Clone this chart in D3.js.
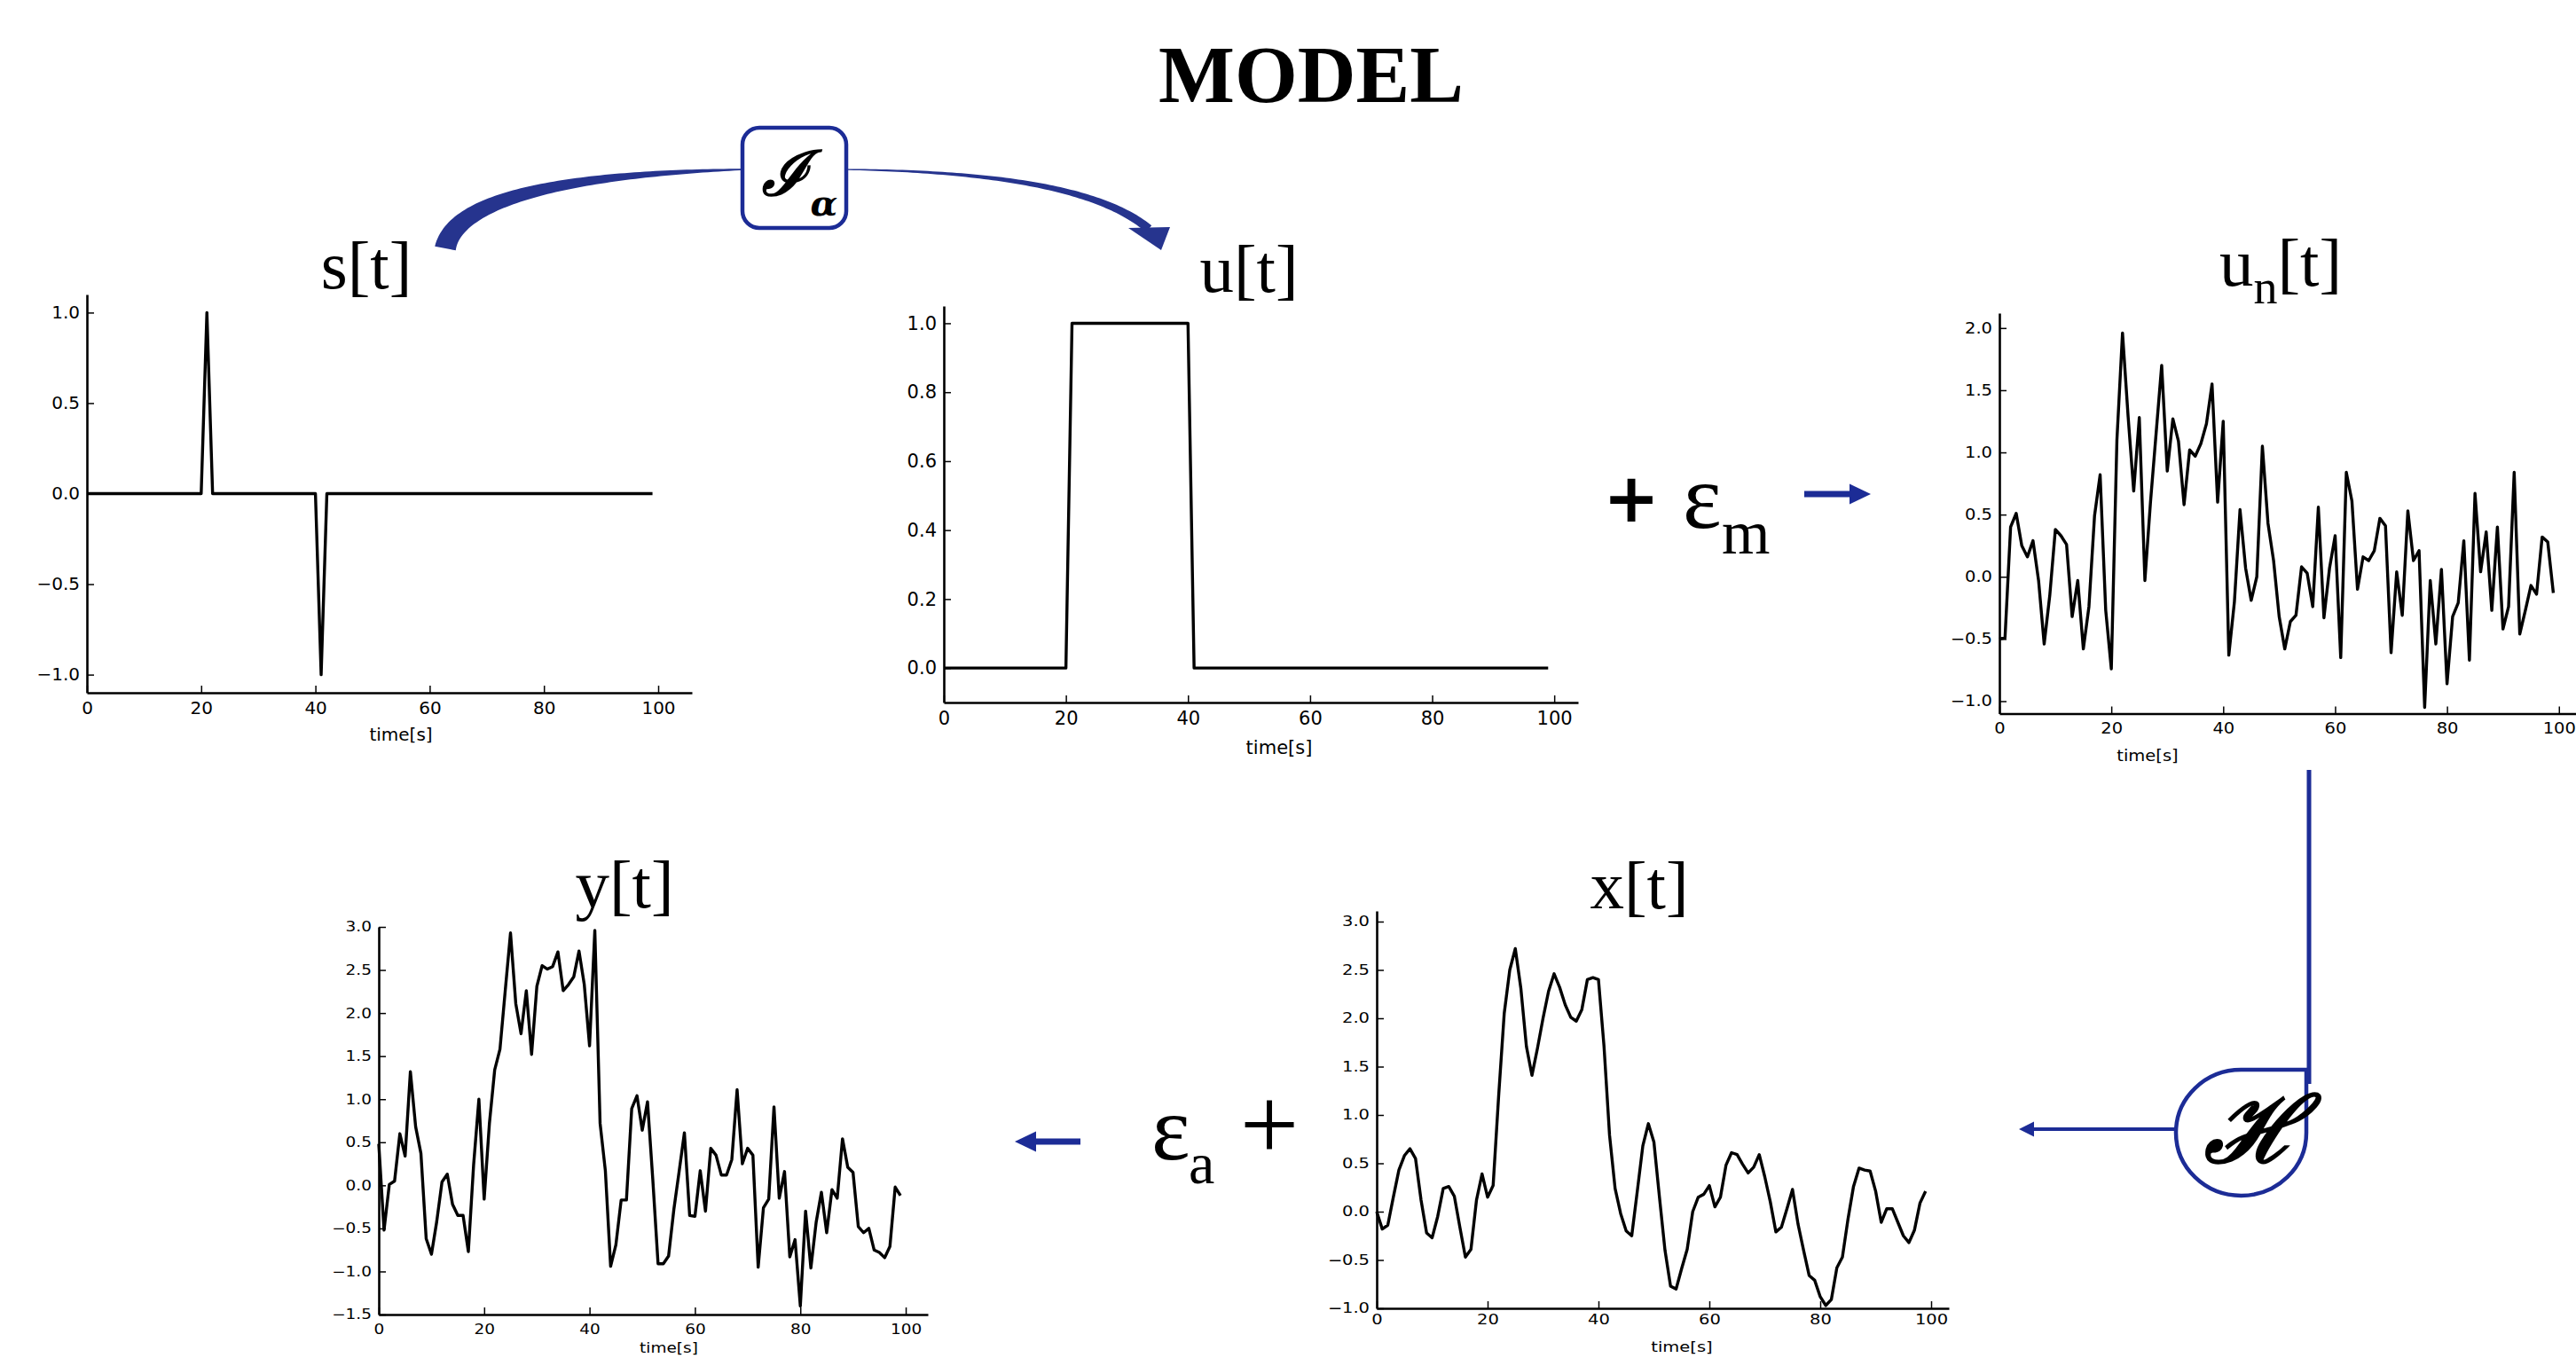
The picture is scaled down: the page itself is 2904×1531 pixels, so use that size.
<!DOCTYPE html>
<html><head><meta charset="utf-8">
<script src="https://cdn.jsdelivr.net/npm/d3@7"></script>
<style>body{margin:0;background:#fff}svg{display:block}</style>
</head><body><script>
// ---------------- data ----------------
const timeTicks = [0, 20, 40, 60, 80, 100];
const sTicks  = [-1.0, -0.5, 0.0, 0.5, 1.0];
const uTicks  = [0.0, 0.2, 0.4, 0.6, 0.8, 1.0];
const unTicks = [-1.0, -0.5, 0.0, 0.5, 1.0, 1.5, 2.0];
const yTicks  = [-1.5, -1.0, -0.5, 0.0, 0.5, 1.0, 1.5, 2.0, 2.5, 3.0];
const xTicks  = [-1.0, -0.5, 0.0, 0.5, 1.0, 1.5, 2.0, 2.5, 3.0];

const sValues = [
 0,0,0,0,0,0,0,0,0,0,
 0,0,0,0,0,0,0,0,0,0,
 0,1,0,0,0,0,0,0,0,0,
 0,0,0,0,0,0,0,0,0,0,
 0,-1,0,0,0,0,0,0,0,0,
 0,0,0,0,0,0,0,0,0,0,
 0,0,0,0,0,0,0,0,0,0,
 0,0,0,0,0,0,0,0,0,0,
 0,0,0,0,0,0,0,0,0,0,
 0,0,0,0,0,0,0,0,0,0];

const uValues = [
 0,0,0,0,0,0,0,0,0,0,
 0,0,0,0,0,0,0,0,0,0,
 0,1,1,1,1,1,1,1,1,1,
 1,1,1,1,1,1,1,1,1,1,
 1,0,0,0,0,0,0,0,0,0,
 0,0,0,0,0,0,0,0,0,0,
 0,0,0,0,0,0,0,0,0,0,
 0,0,0,0,0,0,0,0,0,0,
 0,0,0,0,0,0,0,0,0,0,
 0,0,0,0,0,0,0,0,0,0];

const unValues = [
 -0.50,-0.49,0.40,0.51,0.25,0.16,0.29,-0.03,-0.54,-0.15,
 0.38,0.33,0.26,-0.32,-0.03,-0.58,-0.24,0.49,0.82,-0.27,
 -0.74,1.10,1.96,1.29,0.69,1.28,-0.03,0.60,1.15,1.70,
 0.85,1.27,1.09,0.58,1.02,0.97,1.07,1.23,1.55,0.60,
 1.25,-0.63,-0.20,0.54,0.07,-0.19,0.00,1.05,0.43,0.13,
 -0.32,-0.58,-0.36,-0.31,0.08,0.03,-0.24,0.56,-0.33,0.07,
 0.33,-0.65,0.84,0.61,-0.10,0.16,0.13,0.21,0.47,0.41,
 -0.61,0.04,-0.31,0.53,0.13,0.21,-1.05,-0.03,-0.54,0.06,
 -0.86,-0.32,-0.21,0.29,-0.67,0.67,0.04,0.36,-0.27,0.40,
 -0.42,-0.24,0.84,-0.46,-0.27,-0.07,-0.14,0.32,0.28,-0.13];

const yValues = [
 0.48,-0.52,0.01,0.05,0.60,0.34,1.32,0.68,0.37,-0.62,
 -0.80,-0.42,0.04,0.13,-0.22,-0.35,-0.35,-0.77,0.24,1.00,
 -0.16,0.72,1.34,1.58,2.26,2.93,2.11,1.76,2.26,1.52,
 2.31,2.55,2.51,2.54,2.71,2.26,2.33,2.42,2.72,2.33,
 1.62,2.96,0.72,0.17,-0.94,-0.69,-0.17,-0.17,0.89,1.04,
 0.64,0.97,0.07,-0.91,-0.91,-0.82,-0.28,0.16,0.61,-0.35,
 -0.36,0.17,-0.30,0.43,0.35,0.12,0.12,0.30,1.11,0.25,
 0.43,0.35,-0.95,-0.26,-0.16,0.91,-0.15,0.16,-0.83,-0.63,
 -1.40,-0.30,-0.96,-0.43,-0.08,-0.55,-0.05,-0.15,0.54,0.21,
 0.15,-0.48,-0.55,-0.50,-0.75,-0.78,-0.84,-0.71,-0.02,-0.12];

const xValues = [
 0.00,-0.18,-0.14,0.15,0.43,0.58,0.65,0.55,0.12,-0.22,
 -0.27,-0.05,0.24,0.26,0.16,-0.16,-0.47,-0.39,0.12,0.39,
 0.15,0.27,1.20,2.05,2.50,2.72,2.31,1.71,1.41,1.69,
 2.00,2.28,2.46,2.32,2.14,2.01,1.97,2.09,2.40,2.42,
 2.40,1.71,0.79,0.24,-0.02,-0.20,-0.25,0.21,0.68,0.91,
 0.72,0.15,-0.40,-0.77,-0.80,-0.59,-0.39,0.00,0.15,0.18,
 0.27,0.05,0.15,0.48,0.61,0.59,0.49,0.40,0.46,0.59,
 0.36,0.10,-0.21,-0.16,0.03,0.23,-0.13,-0.40,-0.66,-0.71,
 -0.88,-0.97,-0.91,-0.58,-0.47,-0.08,0.26,0.45,0.43,0.42,
 0.21,-0.11,0.03,0.03,-0.11,-0.25,-0.32,-0.19,0.09,0.21];

// ---------------- drawing ----------------
const W = 2904, H = 1531;
const BLUE = "#1c2c96";
const svg = d3.select("body").append("svg").attr("width", W).attr("height", H)
  .attr("viewBox", `0 0 ${W} ${H}`);
svg.append("rect").attr("width", W).attr("height", H).attr("fill", "#fff");

function squash(sel, k) {
  if (k !== 1) {
    sel.style("transform-box", "fill-box").style("transform-origin", "center")
       .style("transform", `scaleY(${k})`);
  }
}

function chart(cfg) {
  const x = d3.scaleLinear().domain(cfg.xd).range(cfg.xr);
  const y = d3.scaleLinear().domain(cfg.yd).range(cfg.yr);
  const g = svg.append("g");
  const ax = g.append("g").attr("transform", `translate(0,${cfg.yr[0]})`)
    .call(d3.axisBottom(x).tickValues(timeTicks).tickFormat(d3.format("d"))
      .tickSizeInner(-8).tickSizeOuter(0).tickPadding(cfg.xpad));
  const ay = g.append("g").attr("transform", `translate(${cfg.xr[0]},0)`)
    .call(d3.axisLeft(y).tickValues(cfg.yt).tickFormat(d3.format(".1f"))
      .tickSizeInner(-8).tickSizeOuter(0).tickPadding(8));
  [ax, ay].forEach(a => {
    a.select(".domain").attr("stroke", "#000").attr("stroke-width", 2.6);
    a.selectAll(".tick line").attr("stroke", "#000").attr("stroke-width", 1.5);
    const tx = a.selectAll("text").attr("font-family", "DejaVu Sans").attr("font-size", cfg.fs)
      .attr("fill", "#000");
    squash(tx, cfg.sq);
  });
  g.append("path").datum(cfg.data)
    .attr("d", d3.line().x((d, i) => x(i)).y(d => y(d)))
    .attr("fill", "none").attr("stroke", "#000").attr("stroke-width", 3.4)
    .attr("stroke-linejoin", "round");
  const lab = g.append("text").attr("x", cfg.lx).attr("y", cfg.ly)
    .attr("text-anchor", "middle").attr("dominant-baseline", "central")
    .attr("font-family", "DejaVu Sans").attr("font-size", cfg.fs)
    .text("time[s]");
  squash(lab, cfg.sq);
  // title
  const t = g.append("text").attr("x", cfg.tx).attr("y", cfg.ty)
    .attr("text-anchor", "middle").attr("font-family", "Liberation Serif")
    .attr("font-size", 77).attr("fill", "#000");
  t.append("tspan").text(cfg.title[0]);
  if (cfg.title[1]) {
    t.append("tspan").attr("font-size", 54).attr("dy", 20).text(cfg.title[1]);
    t.append("tspan").attr("dy", -20).text("[t]");
  } else {
    t.append("tspan").text("[t]");
  }
}

chart({data: sValues,  xd: [0, 105.9], xr: [98, 780],   yd: [-1.1, 1.1],  yr: [781, 332],
  yt: sTicks, fs: 20, sq: 1, xpad: 10, lx: 452, ly: 828, tx: 413, ty: 325, title: ["s"]});
chart({data: uValues,  xd: [0, 103.9], xr: [1064, 1779], yd: [-0.1, 1.05], yr: [792, 345],
  yt: uTicks, fs: 21, sq: 1, xpad: 10, lx: 1442, ly: 843, tx: 1408, ty: 329, title: ["u"]});
chart({data: unValues, xd: [0, 104],   xr: [2254, 2910], yd: [-1.1, 2.12], yr: [804.5, 353],
  yt: unTicks, fs: 19.5, sq: 0.87, xpad: 10, lx: 2421, ly: 852, tx: 2571, ty: 322, title: ["u", "n"]});
chart({data: yValues,  xd: [0, 104.2], xr: [427, 1046],  yd: [-1.5, 3.0],  yr: [1482, 1045],
  yt: yTicks, fs: 18.5, sq: 0.85, xpad: 10, lx: 754, ly: 1520, tx: 704, ty: 1023, title: ["y"]});
chart({data: xValues,  xd: [0, 103.2], xr: [1552, 2197], yd: [-1.0, 3.11], yr: [1475, 1027],
  yt: xTicks, fs: 19.5, sq: 0.81, xpad: 5, lx: 1896, ly: 1519, tx: 1848, ty: 1024, title: ["x"]});

// ---------------- title ----------------
svg.append("text").attr("x", 1478).attr("y", 115).attr("text-anchor", "middle")
  .attr("font-family", "Liberation Serif").attr("font-weight", "bold")
  .attr("font-size", 91).text("MODEL");

// ---------------- tapered curved arrow (I_alpha) ----------------
function bez(p, t) {
  const u = 1 - t;
  return [u*u*u*p[0][0] + 3*u*u*t*p[1][0] + 3*u*t*t*p[2][0] + t*t*t*p[3][0],
          u*u*u*p[0][1] + 3*u*u*t*p[1][1] + 3*u*t*t*p[2][1] + t*t*t*p[3][1]];
}
function bezd(p, t) {
  const u = 1 - t;
  return [3*u*u*(p[1][0]-p[0][0]) + 6*u*t*(p[2][0]-p[1][0]) + 3*t*t*(p[3][0]-p[2][0]),
          3*u*u*(p[1][1]-p[0][1]) + 6*u*t*(p[2][1]-p[1][1]) + 3*t*t*(p[3][1]-p[2][1])];
}
function taper(p, w0, w1) {
  const L = [], R = [], n = 80;
  for (let i = 0; i <= n; i++) {
    const t = i / n, c = bez(p, t), d = bezd(p, t);
    const len = Math.hypot(d[0], d[1]) || 1;
    const nx = -d[1] / len, ny = d[0] / len, w = (w0 + (w1 - w0) * t) / 2;
    L.push([c[0] + nx * w, c[1] + ny * w]);
    R.push([c[0] - nx * w, c[1] - ny * w]);
  }
  return d3.line()(L.concat(R.reverse())) + "Z";
}
svg.append("path").attr("d", taper([[502,280],[515,215],[680,195],[840,191]], 24, 1.5))
  .attr("fill", "#26348e");
svg.append("path").attr("d", taper([[950,191],[1120,193],[1240,212],[1295,258]], 1.2, 10))
  .attr("fill", "#26348e");
svg.append("path").attr("d", "M1272,257L1319,256L1309,282Z").attr("fill", "#26348e");

svg.append("rect").attr("x", 837).attr("y", 144).attr("width", 117).attr("height", 113)
  .attr("rx", 19).attr("fill", "#fff").attr("stroke", BLUE).attr("stroke-width", 4.5);
svg.append("text").attr("x", 885).attr("y", 220).attr("text-anchor", "middle")
  .attr("font-family", "DejaVu Serif").attr("font-style", "italic").attr("font-weight", "bold")
  .attr("font-size", 70).text("ℐ");
svg.append("text").attr("x", 929).attr("y", 243).attr("text-anchor", "middle")
  .attr("font-family", "DejaVu Serif").attr("font-style", "italic").attr("font-weight", "bold")
  .attr("font-size", 40).text("α");

// ---------------- + eps_m -> ----------------
svg.append("text").attr("x", 1839).attr("y", 588).attr("text-anchor", "middle")
  .attr("font-family", "DejaVu Sans").attr("font-weight", "bold").attr("font-size", 76).text("+");
svg.append("text").attr("x", 1897).attr("y", 595).attr("font-family", "Liberation Serif")
  .attr("font-size", 104).text("ε");
svg.append("text").attr("x", 1941).attr("y", 624).attr("font-family", "Liberation Serif")
  .attr("font-size", 70).text("m");
svg.append("line").attr("x1", 2034).attr("x2", 2090).attr("y1", 557).attr("y2", 557)
  .attr("stroke", BLUE).attr("stroke-width", 7);
svg.append("path").attr("d", "M2085,545.5L2109,557L2085,568.5Z").attr("fill", BLUE);

// ---------------- H block ----------------
svg.append("line").attr("x1", 2603).attr("x2", 2603).attr("y1", 868).attr("y2", 1222)
  .attr("stroke", BLUE).attr("stroke-width", 5);
svg.append("path")
  .attr("d", "M2600,1206L2600,1277A73.5,71 0 0 1 2526.5,1348A73.5,71 0 0 1 2453,1277A73.5,71 0 0 1 2526.5,1206Z")
  .attr("fill", "#fff").attr("stroke", BLUE).attr("stroke-width", 4.5);
svg.append("text").attr("x", 2540).attr("y", 1310).attr("text-anchor", "middle")
  .attr("font-family", "DejaVu Serif").attr("font-style", "italic").attr("font-weight", "bold")
  .attr("font-size", 104).text("ℋ");
svg.append("line").attr("x1", 2290).attr("x2", 2453).attr("y1", 1273).attr("y2", 1273)
  .attr("stroke", BLUE).attr("stroke-width", 4);
svg.append("path").attr("d", "M2293,1264.5L2276,1273L2293,1281.5Z").attr("fill", BLUE);

// ---------------- <- eps_a + ----------------
svg.append("line").attr("x1", 1164).attr("x2", 1218).attr("y1", 1287).attr("y2", 1287)
  .attr("stroke", BLUE).attr("stroke-width", 7);
svg.append("path").attr("d", "M1168,1275.5L1144,1287L1168,1298.5Z").attr("fill", BLUE);
svg.append("text").attr("x", 1298).attr("y", 1307).attr("font-family", "Liberation Serif")
  .attr("font-size", 104).text("ε");
svg.append("text").attr("x", 1340).attr("y", 1334).attr("font-family", "Liberation Serif")
  .attr("font-size", 66).text("a");
svg.append("text").attr("x", 1431).attr("y", 1308).attr("text-anchor", "middle")
  .attr("font-family", "Liberation Serif").attr("font-size", 118).text("+");
</script></body></html>
